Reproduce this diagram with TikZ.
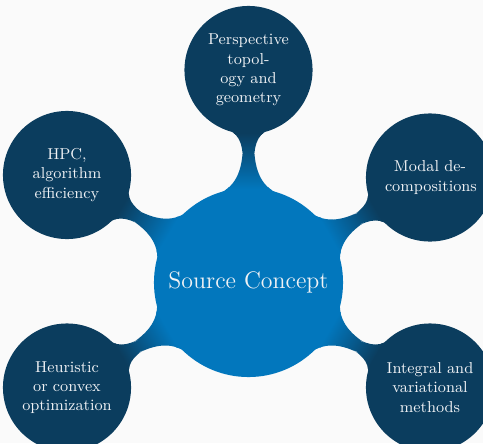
\documentclass[tikz,border=0pt]{standalone}
\usetikzlibrary{mindmap}
\definecolor{rootblue}{RGB}{2,119,189}
\definecolor{childnavy}{RGB}{11,61,94}
\definecolor{bgcol}{RGB}{250,250,250}
\definecolor{txtcol}{RGB}{240,242,245}
\begin{document}
\begin{tikzpicture}[x=0.02cm,y=0.02cm, mindmap,
  rootc/.style={concept, concept color=rootblue, circle, inner sep=0pt, minimum size=3.74cm, text width=3.4cm, align=center, font=\fontsize{13.6}{16}\selectfont, text=txtcol},
  childc/.style={concept, concept color=childnavy, circle, inner sep=0pt, minimum size=2.52cm, text width=1.8cm, align=center, font=\small, text=txtcol},
  link/.style={circle connection bar switch color=from (rootblue) to (childnavy)}]
\fill[bgcol] (0,0) rectangle (483,-443);
\useasboundingbox (0,0) rectangle (483,-443);
\node[rootc] (root) at (248.5,-282.5) {Source Concept};
\node[childc] (top) at (248.5,-70) {Perspective\\topol-\\ogy and\\geometry};
\node[childc] (ur) at (430,-177.5) {Modal de-\\compositions};
\node[childc] (lr) at (430,-387.5) {Integral and\\variational\\methods};
\node[childc] (ll) at (67,-387.5) {Heuristic\\or convex\\optimization};
\node[childc] (ul) at (67,-175) {HPC,\\algorithm\\efficiency};
\path (root) to[link] (top);
\path (root) to[link] (ur);
\path (root) to[link] (lr);
\path (root) to[link] (ll);
\path (root) to[link] (ul);
\end{tikzpicture}
\end{document}
